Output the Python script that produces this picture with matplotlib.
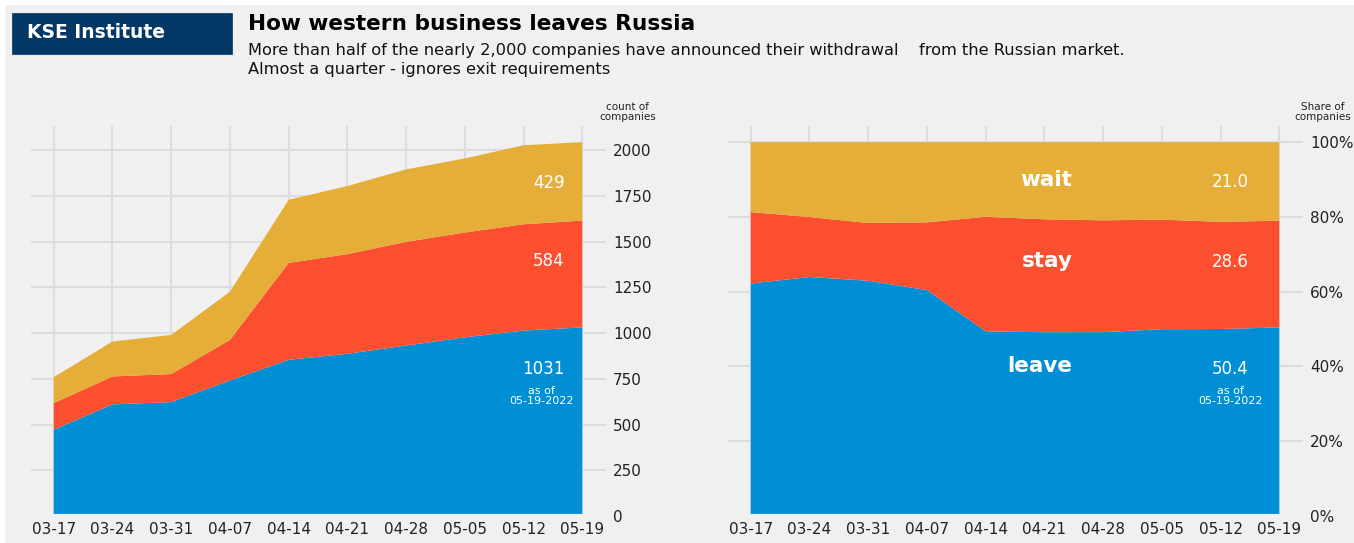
import numpy as np
import matplotlib
matplotlib.use('Agg')
import matplotlib.pyplot as plt
from matplotlib.patches import Rectangle

plt.style.use('fivethirtyeight')
plt.rcParams['font.family'] = ['DejaVu Sans']

# weekly counts of companies
dates = ['03-17', '03-24', '03-31', '04-07', '04-14',
         '04-21', '04-28', '05-05', '05-12', '05-19']
leave = [472, 610, 623, 741, 854, 887, 932, 977, 1014, 1031]
stay = [145, 153, 153, 222, 530, 545, 567, 573, 581, 584]
wait = [142, 191, 214, 263, 345, 372, 396, 405, 432, 429]
count_ticks = [0, 250, 500, 750, 1000, 1250, 1500, 1750, 2000]
share_ticks = [0, 20, 40, 60, 80, 100]
as_of = 'as of\n05-19-2022'

colors = ['#008fd5', '#fc4f30', '#e5ae38']

x = np.arange(len(dates))
counts = np.array([leave, stay, wait], dtype=float)
shares = counts / counts.sum(axis=0) * 100

W, H = 1354, 543
fig = plt.figure(figsize=(W / 100, H / 100), dpi=100)
fig.patch.set_facecolor('white')
fig.patches.append(Rectangle((5 / W, 1.5 / H), 1 - 5 / W, 1 - 6.5 / H,
                             transform=fig.transFigure, color='#f0f0f0', zorder=-10))

# header
fig.patches.append(Rectangle((12 / W, 1 - 54 / H), 220 / W, 41 / H,
                             transform=fig.transFigure, color='#023766', zorder=1))
fig.text(27 / W, 1 - 33 / H, 'KSE Institute', color='white', fontsize=13.5,
         fontweight='bold', va='center', ha='left', zorder=2)
fig.text(248 / W, 1 - 29.5 / H, 'How western business leaves Russia',
         fontsize=15.6, fontweight='bold', va='baseline', color='black')
fig.text(248 / W, 1 - 55 / H,
         'More than half of the nearly 2,000 companies have announced their withdrawal    from the Russian market.',
         fontsize=11.7, va='baseline', color='#111111')
fig.text(248 / W, 1 - 74 / H, 'Almost a quarter - ignores exit requirements',
         fontsize=11.7, va='baseline', color='#111111')

axw, axh = 579 / W, 392.5 / H
bottom = 27 / H
ax1 = fig.add_axes([28.5 / W, bottom, axw, axh])
ax2 = fig.add_axes([725.5 / W, bottom, axw, axh])


def style_axis(ax):
    ax.set_facecolor('#f0f0f0')
    ax.set_xlim(-0.43, len(dates) - 1 + 0.43)
    ax.set_xticks(x)
    ax.set_xticklabels(dates)
    ax.yaxis.tick_right()
    ax.tick_params(axis='x', labelsize=11, pad=4, colors='#222222')
    ax.tick_params(axis='y', labelsize=11, pad=4, colors='#222222')
    ax.grid(True, color='#dcdcdc', linewidth=1.5)


# left: counts
ax1.stackplot(x, counts, colors=colors, linewidth=0.5)
style_axis(ax1)
ax1.set_ylim(0, 2146)
ax1.set_yticks(count_ticks)
ax1.set_yticklabels([str(t) for t in count_ticks])
ax1.text(1.035, 1.03, 'count of\ncompanies', transform=ax1.transAxes,
         ha='center', va='center', fontsize=7.5, linespacing=1.0, color='#222222')
for val, yy in zip([wait[-1], stay[-1], leave[-1]], [1823, 1392, 802]):
    ax1.text(8.70, yy, str(val), ha='right', va='center', color='white', fontsize=12)
ax1.text(8.30, 655, as_of, ha='center', va='center', color='white',
         fontsize=8, linespacing=1.0)

# right: shares
ax2.stackplot(x, shares, colors=colors, linewidth=0.5)
style_axis(ax2)
ax2.set_ylim(0, 105)
ax2.set_yticks(share_ticks)
ax2.set_yticklabels([f'{t}%' for t in share_ticks])
ax2.text(1.032, 1.03, 'Share of\ncompanies', transform=ax2.transAxes,
         ha='center', va='center', fontsize=7.5, linespacing=1.0, color='#222222')
for name, yy in zip(['wait', 'stay', 'leave'], [89.9, 68.3, 40.0]):
    ax2.text(5.48, yy, name, ha='right', va='center', color='white',
             fontsize=15.5, fontweight='bold')
for val, yy in zip([shares[2, -1], shares[1, -1], shares[0, -1]], [89.4, 68.0, 39.4]):
    ax2.text(8.17, yy, f'{val:.1f}', ha='center', va='center', color='white', fontsize=12)
ax2.text(8.17, 32, as_of, ha='center', va='center', color='white',
         fontsize=8, linespacing=1.0)

fig.savefig('out.png', dpi=100, facecolor=fig.get_facecolor())
